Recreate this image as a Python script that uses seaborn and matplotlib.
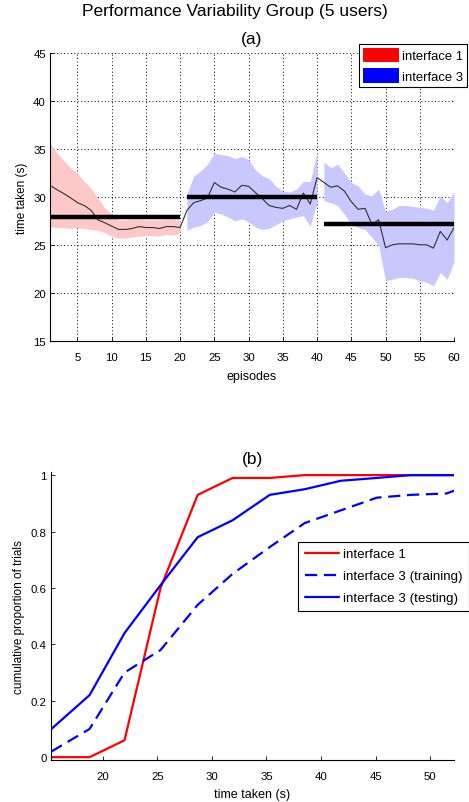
import numpy as np
import pandas as pd
import matplotlib
matplotlib.use("Agg")
import matplotlib.pyplot as plt
from matplotlib.patches import Patch
from matplotlib.lines import Line2D
import seaborn as sns

# ---------------- data: panel (a) ----------------
episodes = list(range(1, 61))
mean_time = [31.2, 30.75, 30.35, 29.9, 29.4, 29.1, 28.6, 27.6, 27.3, 26.95,
             26.6, 26.6, 26.7, 26.9, 26.8, 26.8, 26.7, 26.9, 26.9, 26.8,
             28.6, 29.4, 29.6, 29.9, 31.5, 31.0, 30.8, 30.5, 31.2, 31.1,
             30.45, 29.8, 29.1, 28.9, 28.8, 29.1, 28.7, 30.4, 29.25, 32.0,
             31.5, 31.0, 31.15, 30.6, 29.5, 28.7, 28.8, 27.15, 27.6, 24.7,
             25.0, 25.1, 25.1, 25.1, 25.0, 25.0, 24.65, 26.4, 25.5, 26.8]
band_upper = [35.6, 34.6, 33.8, 33.0, 32.5, 31.6, 30.9, 29.9, 28.85, 28.2,
              27.6, 27.6, 27.65, 27.65, 27.6, 27.6, 27.6, 27.65, 27.65, 27.6,
              30.3, 32.2, 32.7, 33.4, 34.55, 34.4, 34.3, 34.0, 34.2, 33.9,
              32.8, 32.2, 31.9, 31.1, 30.6, 30.5, 30.8, 31.6, 31.6, 34.7,
              33.6, 33.05, 33.4, 32.5, 31.5, 31.15, 30.3, 30.1, 30.8, 28.5,
              28.7, 29.1, 29.1, 29.0, 28.9, 28.8, 28.6, 30.1, 29.4, 30.5]
band_lower = [26.9, 26.8, 26.8, 26.7, 26.8, 26.7, 26.6, 26.5, 26.3, 25.9,
              25.7, 25.7, 25.8, 25.9, 25.95, 25.95, 25.9, 26.1, 26.0, 26.25,
              26.5, 26.85, 27.0, 27.4, 28.4, 28.2, 27.9, 27.5, 27.7, 27.4,
              26.85, 26.6, 26.7, 27.1, 27.5, 27.7, 27.9, 28.05, 26.95, 29.4,
              29.6, 29.4, 29.1, 28.2, 27.15, 26.8, 26.6, 25.8, 24.9, 21.25,
              21.4, 21.6, 21.6, 21.5, 21.25, 21.1, 20.7, 22.1, 21.4, 23.2]
block_interface = ["interface 1", "interface 3", "interface 3"]
block_start = [1, 21, 41]
block_end = [20, 40, 60]
block_mean = [27.85, 30.0, 27.2]

# ---------------- data: panel (b) ----------------
time_taken = [15.3, 18.8, 22.0, 25.3, 28.7, 31.9, 35.3, 38.5, 41.8, 45.1, 48.2, 51.5, 52.2]
cdf_interface1 = [0.0, 0.0, 0.06, 0.60, 0.93, 0.99, 0.99, 1.0, 1.0, 1.0, 1.0, 1.0, 1.0]
cdf_i3_training = [0.02, 0.10, 0.30, 0.38, 0.54, 0.65, 0.745, 0.83, 0.875, 0.92, 0.93, 0.935, 0.945]
cdf_i3_testing = [0.10, 0.22, 0.44, 0.61, 0.78, 0.84, 0.93, 0.95, 0.98, 0.99, 1.0, 1.0, 1.0]

band_colors = {"interface 1": "#ffc8c8", "interface 3": "#c8c8ff"}
legend_colors = {"interface 1": "#ff0000", "interface 3": "#0000ff"}

sns.set_theme(style="ticks")
plt.rcParams["font.family"] = ["Liberation Sans", "DejaVu Sans"]
plt.rcParams["text.color"] = "black"
plt.rcParams["axes.labelcolor"] = "black"
plt.rcParams["xtick.color"] = "black"
plt.rcParams["ytick.color"] = "black"

fig = plt.figure(figsize=(4.69, 8.03), dpi=100)
ax1 = fig.add_axes([50 / 469, 1 - 341.7 / 803, 404 / 469, 287.7 / 803])
ax2 = fig.add_axes([50.7 / 469, 1 - 761 / 803, 403.3 / 469, 287.7 / 803])

# ---- panel (a) ----
df_a = pd.DataFrame({"episode": episodes, "mean": mean_time,
                     "upper": band_upper, "lower": band_lower})
for name, s, e in zip(block_interface, block_start, block_end):
    seg = df_a[(df_a.episode >= s) & (df_a.episode <= e)]
    ax1.fill_between(seg.episode, seg.lower, seg.upper,
                     color=band_colors[name], linewidth=0, zorder=1)
sns.lineplot(data=df_a, x="episode", y="mean", ax=ax1, color="#303030",
             linewidth=0.8, zorder=3)
for s, e, m in zip(block_start, block_end, block_mean):
    ax1.hlines(m, s, e, colors="black", linewidth=3.2, zorder=4)

ax1.set_xlim(1, 60)
ax1.set_ylim(15, 45)
ax1.set_xticks(list(range(5, 61, 5)))
ax1.set_yticks(list(range(15, 46, 5)))
ax1.grid(True, linestyle=(0, (1, 2.5)), color="black", linewidth=0.7)
ax1.set_axisbelow(True)
ax1.set_xlabel("episodes", fontsize=9, labelpad=6)
ax1.set_ylabel("time taken (s)", fontsize=8.5, labelpad=4)
ax1.set_title("(a)", fontsize=12.5, pad=7)
leg_handles = [Patch(facecolor=legend_colors["interface 1"], edgecolor="none", label="interface 1"),
               Patch(facecolor=legend_colors["interface 3"], edgecolor="none", label="interface 3")]
leg1 = ax1.legend(handles=leg_handles, loc="upper right", bbox_to_anchor=(467 / 469, 1 - 45 / 803),
                  bbox_transform=fig.transFigure, fontsize=9.4, frameon=True, fancybox=False,
                  edgecolor="black", framealpha=1, handlelength=2.75, handleheight=1.3,
                  borderpad=0.3, labelspacing=0.45, handletextpad=0.25, borderaxespad=0)
leg1.get_frame().set_linewidth(0.8)

# ---- panel (b) ----
df_b = pd.DataFrame({"time": time_taken * 3,
                     "cdf": cdf_interface1 + cdf_i3_training + cdf_i3_testing,
                     "series": ["interface 1"] * len(time_taken)
                     + ["interface 3 (training)"] * len(time_taken)
                     + ["interface 3 (testing)"] * len(time_taken)})
series_style = {"interface 1": ("#ff0000", "-"),
                "interface 3 (training)": ("#0000ff", (0, (5.5, 3))),
                "interface 3 (testing)": ("#0000ff", "-")}
for name, (c, ls) in series_style.items():
    sub = df_b[df_b.series == name]
    sns.lineplot(data=sub, x="time", y="cdf", ax=ax2, color=c, linestyle=ls,
                 linewidth=1.6)
ax2.set_xlim(15.24, 52.17)
ax2.set_ylim(-0.01, 1.01)
ax2.set_xticks([20, 25, 30, 35, 40, 45, 50])
ax2.set_yticks([0, 0.2, 0.4, 0.6, 0.8, 1])
ax2.set_yticklabels(["0", "0.2", "0.4", "0.6", "0.8", "1"])
ax2.set_xlabel("time taken (s)", fontsize=9, labelpad=5)
ax2.set_ylabel("cumulative proportion of trials", fontsize=8.5, labelpad=4)
ax2.set_title("(b)", fontsize=12.5, pad=7)
leg_handles2 = [Line2D([0], [0], color=series_style[n][0], linestyle=series_style[n][1],
                       linewidth=1.6, label=n) for n in series_style]
leg2 = ax2.legend(handles=leg_handles2, loc="upper right", bbox_to_anchor=(469 / 469, 1 - 542.5 / 803),
                  bbox_transform=fig.transFigure, fontsize=9.6, frameon=True, fancybox=False,
                  edgecolor="black", framealpha=1, handlelength=2.55,
                  borderpad=0.5, labelspacing=0.72, handletextpad=0.3, borderaxespad=0)
leg2.get_frame().set_linewidth(0.8)

for ax in (ax1, ax2):
    sns.despine(ax=ax)
    for sp in ("left", "bottom"):
        ax.spines[sp].set_color("black")
        ax.spines[sp].set_linewidth(0.8)
    ax.tick_params(direction="in", length=3, width=0.6, labelsize=8.2)
    ax.tick_params(axis="x", pad=8)
    ax.tick_params(axis="y", pad=3)

fig.suptitle("Performance Variability Group (5 users)", fontsize=12.5, y=1 - 4 / 803, va="top")
fig.savefig("out.png", dpi=100)
